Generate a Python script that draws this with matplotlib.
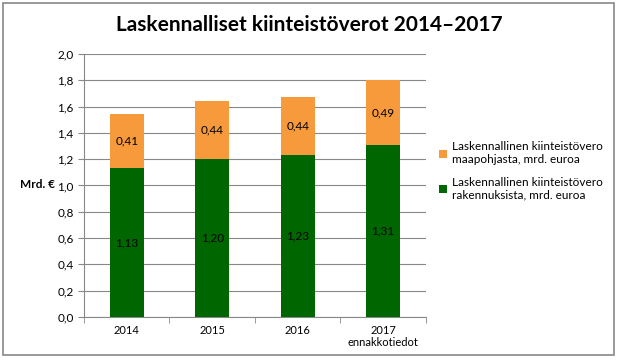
import matplotlib.pyplot as plt
from matplotlib.patches import Rectangle
import numpy as np

plt.rcParams['font.family'] = ['Lato', 'DejaVu Sans']

years = ['2014', '2015', '2016', '2017\nennakkotiedot']
buildings = [1.13, 1.20, 1.23, 1.31]
land = [0.41, 0.44, 0.44, 0.49]
yticks = [0.0, 0.2, 0.4, 0.6, 0.8, 1.0, 1.2, 1.4, 1.6, 1.8, 2.0]

green = '#006600'
orange = '#F79A3B'

fig = plt.figure(figsize=(6.18, 3.64), dpi=100)
ax = fig.add_axes([0.136, 0.129, 0.553, 0.723])

x = np.arange(len(years))
b1 = ax.bar(x, buildings, width=0.4, color=green, zorder=3,
            label='Laskennallinen kiinteistövero\nrakennuksista, mrd. euroa')
b2 = ax.bar(x, land, width=0.4, bottom=buildings, color=orange, zorder=3,
            label='Laskennallinen kiinteistövero\nmaapohjasta, mrd. euroa')

def fmt(v):
    return f'{v:.2f}'.replace('.', ',')

for xi, bv, lv in zip(x, buildings, land):
    ax.text(xi, bv / 2, fmt(bv), ha='center', va='center', fontsize=8.5, zorder=4)
    ax.text(xi, bv + lv / 2, fmt(lv), ha='center', va='center', fontsize=8.5, zorder=4)

ax.set_xlim(-0.5, len(years) - 0.5)
ax.set_ylim(0, 2.0)
ax.set_yticks(yticks)
ax.set_yticklabels([f'{t:.1f}'.replace('.', ',') for t in yticks], fontsize=8.5)
ax.set_xticks(x)
ax.set_xticklabels(years, fontsize=8, linespacing=1.05)
ax.tick_params(axis='x', length=0, pad=6)
ax.set_xticks(np.arange(len(years) + 1) - 0.5, minor=True)
ax.tick_params(axis='x', which='minor', length=4, color='#888888')
ax.tick_params(axis='y', length=4, color='#888888')
ax.grid(axis='y', color='#888888', linewidth=0.8, zorder=0)
for s in ['top', 'right']:
    ax.spines[s].set_visible(False)
for s in ['left', 'bottom']:
    ax.spines[s].set_color('#888888')

fig.text(0.033, 1 - 185 / 364, 'Mrd. €', fontsize=8.5, fontweight='bold', va='center')
fig.suptitle('Laskennalliset kiinteistöverot 2014–2017',
             x=0.5, y=0.96, fontsize=15, fontweight='bold')

ax.legend(handles=[b2, b1], loc='center left', bbox_to_anchor=(0.71, 0.53),
          bbox_transform=fig.transFigure, frameon=False, fontsize=8.5,
          handlelength=0.7, handleheight=0.7, handletextpad=0.4, labelspacing=1.0,
          borderaxespad=0, borderpad=0)

fig.patches.append(Rectangle((0.005, 0.025), 0.988, 0.968, transform=fig.transFigure,
                             fill=False, edgecolor='#888888', linewidth=1.2))

fig.savefig('out.png', dpi=100)
